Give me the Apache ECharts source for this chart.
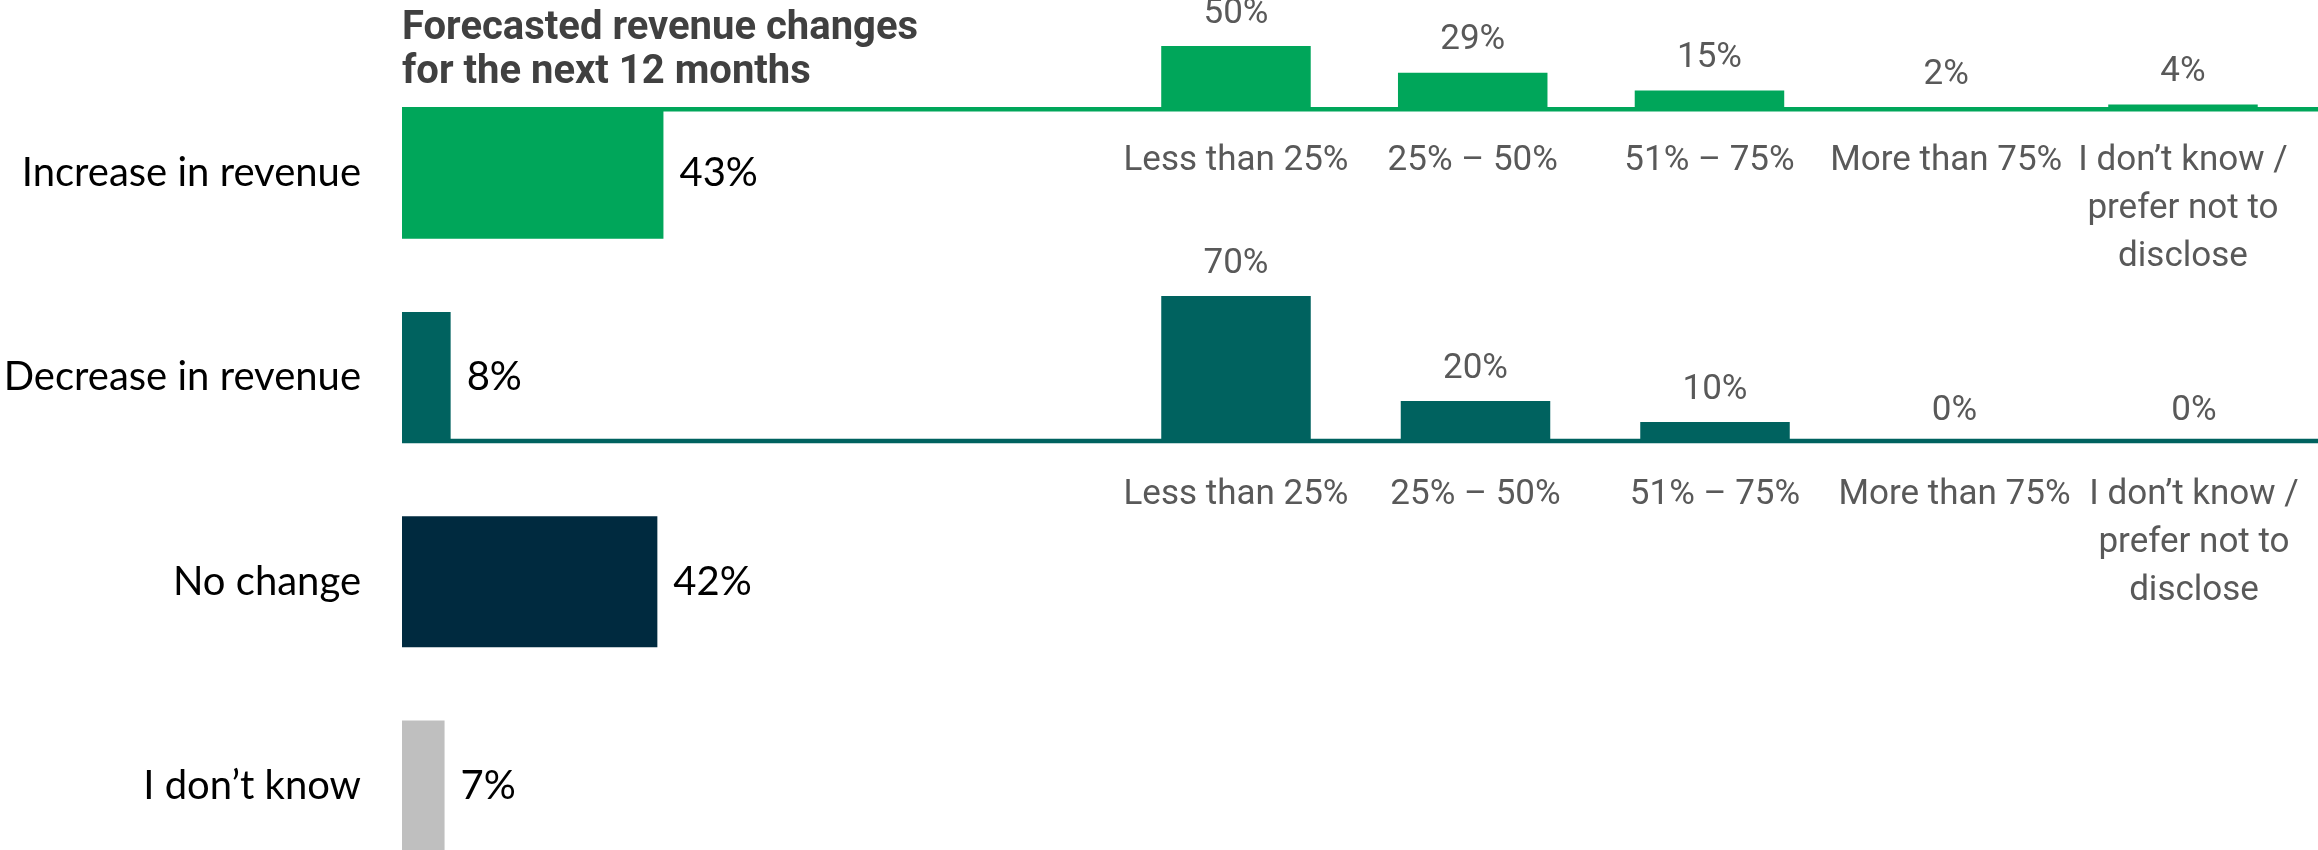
<!DOCTYPE html>
<html>
<head>
<meta charset="utf-8">
<title>Forecasted revenue changes</title>
<script src="https://cdn.jsdelivr.net/npm/echarts@6/dist/echarts.min.js"></script>
<style>
  html, body { margin: 0; padding: 0; background: #fff; }
  #main { width: 2318px; height: 850px; }
</style>
</head>
<body>
<div id="main"></div>
<script>
// overall answer
var outlookCats = ['Increase in revenue', 'Decrease in revenue', 'No change', 'I don\u2019t know'];
var outlookVals = [43, 8, 42, 7];

// breakdown of the expected change
var rangeCats = ['Less than 25%', '25% \u2013 50%', '51% \u2013 75%', 'More than 75%', 'I don\u2019t know /\nprefer not to\ndisclose'];
var increaseVals = [50, 29, 15, 2, 4];
var decreaseVals = [70, 20, 10, 0, 0];

var outlookColors = ['#00a65a', '#00625f', '#002a3f', '#bfbfbf'];

// layout
var barLeft = 402;
var topBase = 109.5, topScale = 1.27, topMax = 60;
var botBase = 443, botScale = 2.1, botMax = 80;

var mychart = echarts.init(document.getElementById('main'));

function miniLabel() {
    return {
        show: true,
        position: 'top',
        distance: 12,
        formatter: '{c}%',
        fontFamily: 'Roboto',
        fontSize: 35,
        lineHeight: 40,
        color: '#595959'
    };
}

function miniX(idx) {
    return {
        type: 'category',
        gridIndex: idx,
        data: rangeCats,
        axisLine: { show: false },
        axisTick: { show: false },
        axisLabel: {
            interval: 0,
            margin: 28,
            fontFamily: 'Roboto',
            fontSize: 35,
            lineHeight: 48,
            color: '#595959'
        }
    };
}

var option = {
    animation: false,
    title: {
        text: 'Forecasted revenue changes\nfor the next 12 months',
        left: barLeft - 5,
        top: 2,
        textStyle: {
            fontFamily: 'Roboto',
            fontWeight: 'bold',
            fontSize: 40,
            lineHeight: 44,
            color: '#404040'
        }
    },
    grid: [
        { left: barLeft, top: 71, width: 608, height: 817, outerBoundsMode: 'none' },
        { left: 1117.6, top: topBase - topScale * topMax, width: 1183.75, height: topScale * topMax, outerBoundsMode: 'none' },
        { left: 1116.25, top: botBase - botScale * botMax, width: 1197.5, height: botScale * botMax, outerBoundsMode: 'none' }
    ],
    xAxis: [
        { type: 'value', gridIndex: 0, min: 0, max: 100, show: false },
        miniX(1),
        miniX(2)
    ],
    yAxis: [
        {
            type: 'category',
            gridIndex: 0,
            inverse: true,
            data: outlookCats,
            axisLine: { show: false },
            axisTick: { show: false },
            axisLabel: {
                margin: 41,
                fontFamily: 'Lato',
                fontSize: 40,
                color: '#000'
            }
        },
        { type: 'value', gridIndex: 1, min: 0, max: topMax, show: false },
        { type: 'value', gridIndex: 2, min: 0, max: botMax, show: false }
    ],
    graphic: [
        {
            type: 'line',
            z: 0,
            shape: { x1: barLeft, y1: 109.3, x2: 2318, y2: 109.3 },
            style: { stroke: '#00a65a', lineWidth: 4.5 }
        },
        {
            type: 'line',
            z: 0,
            shape: { x1: barLeft, y1: 441, x2: 2318, y2: 441 },
            style: { stroke: '#00625f', lineWidth: 4.5 }
        }
    ],
    series: [
        {
            type: 'bar',
            xAxisIndex: 0,
            yAxisIndex: 0,
            barWidth: 131,
            data: outlookVals.map(function (v, i) {
                return { value: v, itemStyle: { color: outlookColors[i] } };
            }),
            label: {
                show: true,
                position: 'right',
                distance: 16,
                formatter: '{c}%',
                fontFamily: 'Lato',
                fontSize: 40,
                color: '#000'
            }
        },
        {
            type: 'bar',
            xAxisIndex: 1,
            yAxisIndex: 1,
            barWidth: 149.5,
            itemStyle: { color: '#00a65a' },
            label: miniLabel(),
            data: increaseVals
        },
        {
            type: 'bar',
            xAxisIndex: 2,
            yAxisIndex: 2,
            barWidth: 149.5,
            itemStyle: { color: '#00625f' },
            label: miniLabel(),
            data: decreaseVals
        }
    ]
};

mychart.setOption(option);
</script>
</body>
</html>
